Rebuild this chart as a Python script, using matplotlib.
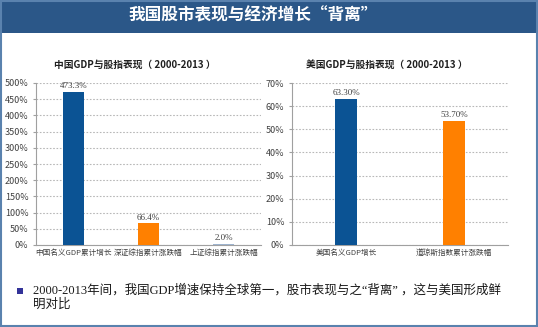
import matplotlib.pyplot as plt
from matplotlib.patches import Rectangle
from matplotlib.ticker import FuncFormatter, MultipleLocator

plt.rcParams['font.family'] = ['Noto Sans CJK SC', 'DejaVu Sans']

# data
cn_cats = ["中国名义GDP累计增长", "深证综指累计涨跌幅", "上证综指累计涨跌幅"]
cn_vals = [473.3, 66.4, 2.0]
cn_labels = ["473.3%", "66.4%", "2.0%"]
us_cats = ["美国名义GDP增长", "道琼斯指数累计涨跌幅"]
us_vals = [63.30, 53.70]
us_labels = ["63.30%", "53.70%"]

W, H = 538, 327
fig = plt.figure(figsize=(W / 100, H / 100), dpi=100)
fig.patch.set_facecolor("white")

def box(x0, y0, x1, y1):
    # pixel box (top-left origin) -> figure fraction
    return [x0 / W, 1 - y1 / H, (x1 - x0) / W, (y1 - y0) / H]

# header bar and frame
fig.patches.append(Rectangle((0, 1 - 33 / H), 1, 33 / H, transform=fig.transFigure,
                             facecolor="#2B5788", edgecolor="none", zorder=0))
fig.patches.append(Rectangle((0.002, 0.003), 0.996, 0.994, transform=fig.transFigure,
                             facecolor="none", edgecolor="#5A82AE", linewidth=1.5, zorder=5))
fig.text(253 / W, 1 - 16 / H, "我国股市表现与经济增长“背离”", color="white",
         fontsize=12, fontweight="bold", ha="center", va="center")

blue = "#0B5394"
orange = "#FF8000"


def draw(ax, cats, vals, labels, colors, top, step, width, title, tx):
    xs = range(len(cats))
    ax.bar(xs, vals, width=width, color=colors, zorder=3)
    for x, v, lab in zip(xs, vals, labels):
        ax.text(x, v + top * 0.012, lab, ha="center", va="bottom", fontsize=6.5,
                color="#404040", family=["Liberation Serif", "Noto Sans CJK SC"])
    ax.set_xlim(-0.5, len(cats) - 0.5)
    ax.set_ylim(0, top)
    ax.yaxis.set_major_locator(MultipleLocator(step))
    ax.yaxis.set_major_formatter(FuncFormatter(lambda v, p: f"{v:.0f}%"))
    ax.set_xticks(list(xs))
    ax.set_xticklabels(cats, fontsize=5.5, color="#404040")
    ax.tick_params(axis="y", labelsize=6.5, colors="#404040", length=2, color="#A0A0A0")
    ax.tick_params(axis="x", length=0, pad=3)
    ax.grid(axis="y", linestyle=(0, (1.5, 1.5)), color="#B8B8B8", linewidth=0.8, zorder=0)
    for s in ["top", "right"]:
        ax.spines[s].set_visible(False)
    for s in ["left", "bottom"]:
        ax.spines[s].set_color("#A0A0A0")
        ax.spines[s].set_linewidth(0.8)
    fig.text(tx / W, 1 - 65 / H, title, ha="center", va="center", fontsize=7,
             color="#202020", fontweight="semibold")


ax1 = fig.add_axes(box(36, 83, 261, 245))
draw(ax1, cn_cats, cn_vals, cn_labels, [blue, orange, "#9DB3CE"], 500, 50, 0.27,
     "中国GDP与股指表现（ 2000-2013 ）", 135, )

ax2 = fig.add_axes(box(292, 83, 508, 245))
draw(ax2, us_cats, us_vals, us_labels, [blue, orange], 70, 10, 0.195,
     "美国GDP与股指表现（ 2000-2013 ）", 387)

# bullet note
fig.patches.append(Rectangle((17 / W, 1 - 294 / H), 6 / W, 6 / H, transform=fig.transFigure,
                             facecolor="#333399", edgecolor="none"))
fig.text(33 / W, 1 - 290 / H, "2000-2013年间，我国GDP增速保持全球第一，股市表现与之“背离” ，这与美国形成鲜",
         fontsize=9, color="#1A1A1A", va="center", ha="left",
         family=["Liberation Serif", "Noto Sans CJK SC"])
fig.text(33 / W, 1 - 305 / H, "明对比", fontsize=9, color="#1A1A1A", va="center", ha="left",
         family=["Liberation Serif", "Noto Sans CJK SC"])

fig.savefig("out.png", dpi=100)
